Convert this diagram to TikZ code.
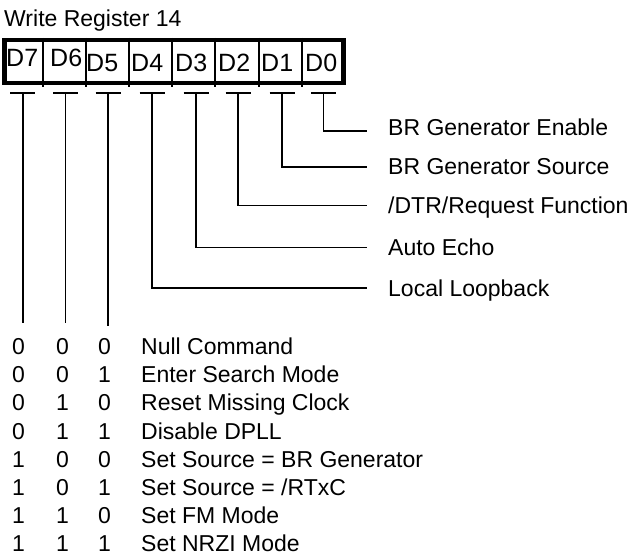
\documentclass[tikz,border=0pt]{standalone}
\usepackage{fontspec}
\setmainfont{Liberation Sans}
\begin{document}
\begin{tikzpicture}[x=1pt,y=-1pt,
  txt/.style={inner sep=0pt, anchor=base west, font=\fontsize{23}{27}\selectfont},
  cell/.style={txt, font=\fontsize{25}{29}\selectfont},
  wire/.style={line width=1.6pt},
  divider/.style={line width=1.4pt},
  regbox/.style={draw, line width=4.5pt, inner sep=0pt, minimum width=339pt, minimum height=43pt, anchor=north west}]
\useasboundingbox (0,0) rectangle (642,556);
% title
\node[txt] (title) at (4,27) {Write Register 14};
% dividers
\foreach \x in {43,86,129,172,215,259,302}{
  \draw[divider] (\x,38) -- (\x,87);
}
\node[regbox] (reg) at (2,38) {};
% cell labels
\node[cell] (c7) at (6,67) {D7};
\node[cell] (c6) at (50,67) {D6};
\node[cell] (c5) at (86,72) {D5};
\node[cell] (c4) at (131,72) {D4};
\node[cell] (c3) at (175,72) {D3};
\node[cell] (c2) at (218,72) {D2};
\node[cell] (c1) at (261,72) {D1};
\node[cell] (c0) at (305,72) {D0};
% T bars
\foreach \n/\x in {7/22.7,6/65.5,5/108,4/152,3/196,2/238,1/282,0/323.5}{
  \coordinate (t\n) at (\x,93);
  \draw[wire] ([xshift=-12.5pt]t\n) -- ([xshift=12.5pt]t\n);
}
% right labels
\node[txt] (l0) at (388,136) {BR Generator Enable};
\node[txt] (l1) at (388,175) {BR Generator Source};
\node[txt] (l2) at (388,213) {/DTR/Request Function};
\node[txt] (l3) at (388,255) {Auto Echo};
\node[txt] (l4) at (388,296) {Local Loopback};
\coordinate (e0) at (367,131);
\coordinate (e1) at (367,167);
\coordinate (e2) at (367,205.5);
\coordinate (e3) at (367,247.5);
\coordinate (e4) at (367,288);
\foreach \n in {0,...,4}{
  \draw[wire] (t\n) |- (e\n);
}
% left verticals
\coordinate (b7) at (22.7,323);
\coordinate (b6) at (65.5,323);
\coordinate (b5) at (108,326);
\foreach \n in {7,6,5}{
  \draw[wire] (t\n) -- (b\n);
}
% table
\foreach \a/\b/\c/\d [count=\i from 0] in {
  0/0/0/{Null Command},
  0/0/1/{Enter Search Mode},
  0/1/0/{Reset Missing Clock},
  0/1/1/{Disable DPLL},
  1/0/0/{Set Source = BR Generator},
  1/0/1/{Set Source = /RTxC},
  1/1/0/{Set FM Mode},
  1/1/1/{Set NRZI Mode}}{
  \pgfmathsetmacro{\yy}{354.5+28.2*\i}
  \node[txt] (r\i a) at (12,\yy) {\a};
  \node[txt] (r\i b) at (56,\yy) {\b};
  \node[txt] (r\i c) at (98,\yy) {\c};
  \node[txt] (r\i d) at (141,\yy) {\d};
}
\end{tikzpicture}
\end{document}
